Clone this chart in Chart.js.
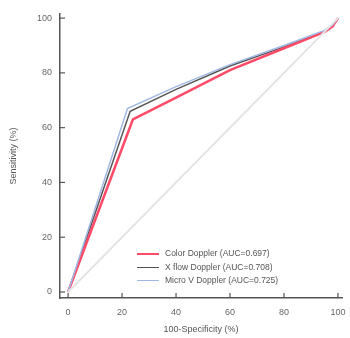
<!DOCTYPE html>
<html>
<head>
<meta charset="utf-8">
<script src="https://cdn.jsdelivr.net/npm/chart.js@4"></script>
<style>
  html, body { margin: 0; padding: 0; background: #fff; }
  #wrap { position: relative; width: 350px; height: 338px; }
  #legend { position: absolute; left: 137px; top: 247px; font-family: "Liberation Sans", Arial, sans-serif; font-size: 8.5px; color: #555; }
  #legend div { height: 13.5px; line-height: 13.5px; white-space: nowrap; }
  #legend span.sw { display: inline-block; width: 22px; vertical-align: middle; margin-right: 6px; }
</style>
</head>
<body>
<div id="wrap">
  <canvas id="roc" width="350" height="338"></canvas>
  <div id="legend"></div>
</div>
<script>
const labels = ['Color Doppler (AUC=0.697)', 'X flow Doppler (AUC=0.708)', 'Micro V Doppler (AUC=0.725)'];
const fpr = [0, 24, 40, 60, 80, 95, 98, 100];
const colorDoppler = [0, 63, 71, 81, 89, 95, 97, 100];
const xflowDoppler = [0, 66, 74, 82.5, 89.5, 95, 97, 100];
const microVDoppler = [0, 67, 75, 83, 90, 95.5, 97.5, 100];
const fprMicro = [0, 22, 40, 60, 80, 95, 98, 100];
const fprXflow = [0, 23, 40, 60, 80, 95, 98, 100];
const ticks = [0, 20, 40, 60, 80, 100];

const colors = ['#ff4a68', '#555555', '#9fb8e6'];
const widths = [2.5, 1.5, 1.5];

function pts(xs, ys) {
    return xs.map((x, i) => ({ x: x, y: ys[i] }));
}

const ctx = document.getElementById('roc').getContext('2d');

// tick marks drawn inward, like the original figure
const innerTicks = {
    id: 'innerTicks',
    afterDraw(chart) {
        const c = chart.ctx;
        const xs = chart.scales.x, ys = chart.scales.y;
        const a = chart.chartArea;
        c.save();
        c.strokeStyle = '#555';
        c.lineWidth = 1.2;
        ticks.forEach(t => {
            const px = xs.getPixelForValue(t);
            c.beginPath(); c.moveTo(px, a.bottom); c.lineTo(px, a.bottom - 5); c.stroke();
            const py = ys.getPixelForValue(t);
            c.beginPath(); c.moveTo(a.left, py); c.lineTo(a.left + 5, py); c.stroke();
        });
        c.restore();
    }
};

const chart = new Chart(ctx, {
    type: 'line',
    data: {
        datasets: [
            {
                label: 'ref',
                data: pts([0, 100], [0, 100]),
                borderColor: '#e4e4e4',
                borderWidth: 2,
                pointRadius: 0
            },
            {
                label: labels[2],
                data: pts(fprMicro, microVDoppler),
                borderColor: colors[2],
                borderWidth: widths[2],
                pointRadius: 0
            },
            {
                label: labels[0],
                data: pts(fpr, colorDoppler),
                borderColor: colors[0],
                borderWidth: widths[0],
                pointRadius: 0
            },
            {
                label: labels[1],
                data: pts(fprXflow, xflowDoppler),
                borderColor: colors[1],
                borderWidth: widths[1],
                pointRadius: 0
            }
        ]
    },
    options: {
        responsive: false,
        animation: false,
        parsing: false,
        layout: { padding: { top: 14, right: 8, left: 0, bottom: 0 } },
        plugins: { legend: { display: false }, tooltip: { enabled: false } },
        elements: { line: { tension: 0 } },
        scales: {
            x: {
                type: 'linear',
                min: -3, max: 101.5,
                afterBuildTicks: s => { s.ticks = ticks.map(v => ({ value: v })); },
                afterFit: s => { s.height = 40; s.paddingRight = 0; s.paddingLeft = 0; },
                grid: { display: false, drawTicks: false },
                border: { display: true, color: '#555', width: 1.5 },
                ticks: { color: '#666', padding: 9, font: { size: 9, family: 'Liberation Sans' } },
                title: { display: true, text: '100-Specificity (%)', color: '#555', padding: { top: 0, bottom: 3 }, font: { size: 9, family: 'Liberation Sans' } }
            },
            y: {
                type: 'linear',
                min: -2.2, max: 101.5,
                afterBuildTicks: s => { s.ticks = ticks.map(v => ({ value: v })); },
                afterFit: s => { s.width = 60; s.paddingTop = 0; s.paddingBottom = 0; },
                grid: { display: false, drawTicks: false },
                border: { display: true, color: '#555', width: 1.5 },
                ticks: { color: '#666', padding: 8, font: { size: 9, family: 'Liberation Sans' } },
                title: { display: true, text: 'Sensitivity (%)', color: '#555', padding: { top: 8, bottom: 0 }, font: { size: 9, family: 'Liberation Sans' } }
            }
        }
    },
    plugins: [innerTicks]
});

// legend built from the same label/colour arrays
const leg = document.getElementById('legend');
labels.forEach((l, i) => {
    const row = document.createElement('div');
    row.innerHTML = '<span class="sw" style="border-top:' + widths[i] + 'px solid ' + colors[i] + '"></span>' + l;
    leg.appendChild(row);
});
</script>
</body>
</html>
